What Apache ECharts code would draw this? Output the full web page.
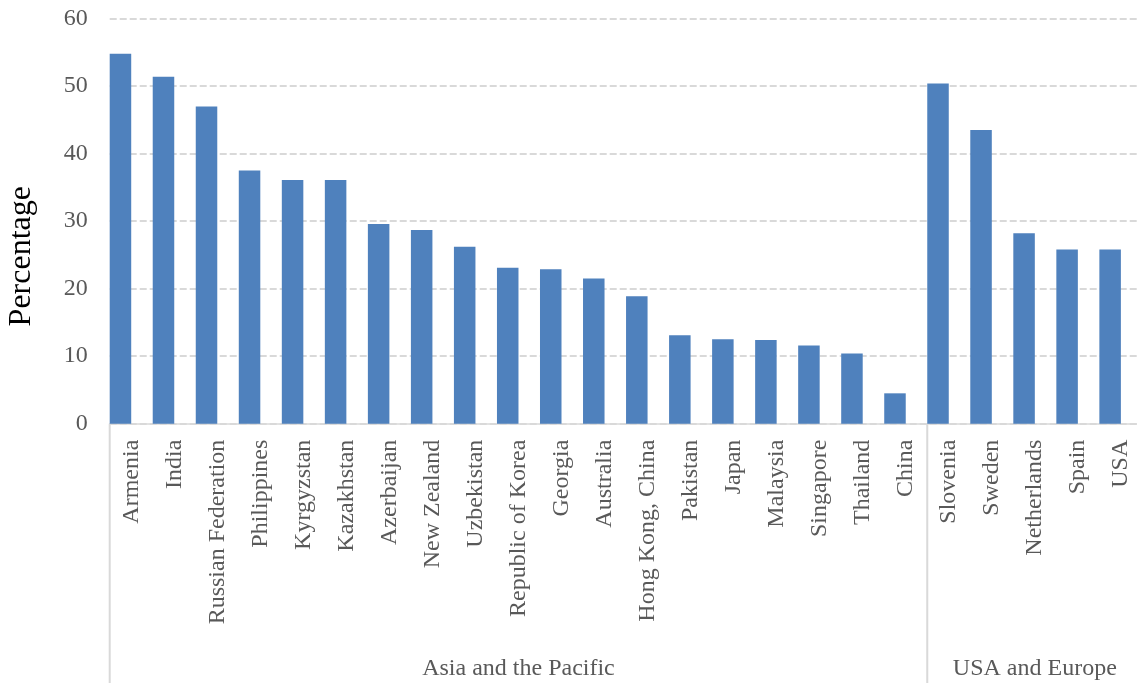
<!DOCTYPE html>
<html><head><meta charset="utf-8">
<script src="https://cdn.jsdelivr.net/npm/echarts@6/dist/echarts.min.js"></script>
<style>html,body{margin:0;padding:0;background:#fff}#c{width:1137px;height:683px}</style>
</head><body><div id="c"></div>
<script>
const countries = ['Armenia','India','Russian Federation','Philippines','Kyrgyzstan','Kazakhstan','Azerbaijan','New Zealand','Uzbekistan','Republic of Korea','Georgia','Australia','Hong Kong, China','Pakistan','Japan','Malaysia','Singapore','Thailand','China','Slovenia','Sweden','Netherlands','Spain','USA'];
const percentages = [54.8,51.4,47.0,37.5,36.1,36.1,29.6,28.7,26.2,23.1,22.9,21.5,18.9,13.1,12.5,12.4,11.6,10.4,4.5,50.4,43.5,28.2,25.8,25.8];
const groupNames = ['Asia and the Pacific','USA and Europe'];
const groupSizes = [19,5];
const yMin = 0, yMax = 60, yStep = 10;

const FONT = 'Liberation Serif';
const chart = echarts.init(document.getElementById('c'), null, {renderer:'canvas'});
chart.setOption({
  animation:false,
  backgroundColor:'#ffffff',
  grid:{left:109.7, top:18.7, width:1032.7, height:405, containLabel:false, outerBoundsMode:'none'},
  xAxis:{
    type:'category', data:countries, boundaryGap:true,
    axisLine:{show:true, lineStyle:{color:'#d9d9d9', width:1.5}},
    axisTick:{show:false},
    axisLabel:{interval:0, rotate:90, margin:16, fontFamily:FONT, fontSize:24, color:'#595959'}
  },
  yAxis:{
    type:'value', min:yMin, max:yMax, interval:yStep,
    name:'Percentage', nameLocation:'middle', nameGap:72,
    nameTextStyle:{fontFamily:FONT, fontSize:32, color:'#000000', padding:[0,70,0,0]},
    axisLine:{show:false}, axisTick:{show:false},
    axisLabel:{margin:22, fontFamily:FONT, fontSize:24, color:'#595959'},
    splitLine:{show:true, lineStyle:{color:'#d9d9d9', width:2, type:[7,3]}}
  },
  series:[
    {type:'bar', name:'Percentage', data:percentages, barWidth:'50%', barGap:'0%',
     itemStyle:{color:'#4f81bd'}},
    {type:'bar', name:'spacer', data:countries.map(()=>null), barWidth:'50%', barGap:'0%',
     itemStyle:{color:'transparent'}, silent:true}
  ]
});

const c0 = chart.convertToPixel({xAxisIndex:0}, countries[0]);
const c1 = chart.convertToPixel({xAxisIndex:0}, countries[1]);
const band = c1 - c0;
const yBase = chart.convertToPixel({yAxisIndex:0}, yMin);
const H = chart.getHeight();
const graphics = [];
let start = 0;
groupSizes.forEach((size, gi) => {
  const left = c0 - band/2 + start*band;
  const right = left + size*band;
  graphics.push({type:'line', shape:{x1:left, y1:yBase, x2:left, y2:H}, style:{stroke:'#d9d9d9', lineWidth:2}, silent:true});
  if (gi === groupSizes.length-1) {
    graphics.push({type:'line', shape:{x1:right, y1:yBase, x2:right, y2:H}, style:{stroke:'#d9d9d9', lineWidth:2}, silent:true});
  }
  graphics.push({type:'text', x:(left+right)/2, y:H-14, style:{text:groupNames[gi], font:'24px "'+FONT+'"', fill:'#595959', textAlign:'center', textVerticalAlign:'middle'}, silent:true});
  start += size;
});
chart.setOption({graphic:graphics});
</script></body></html>
